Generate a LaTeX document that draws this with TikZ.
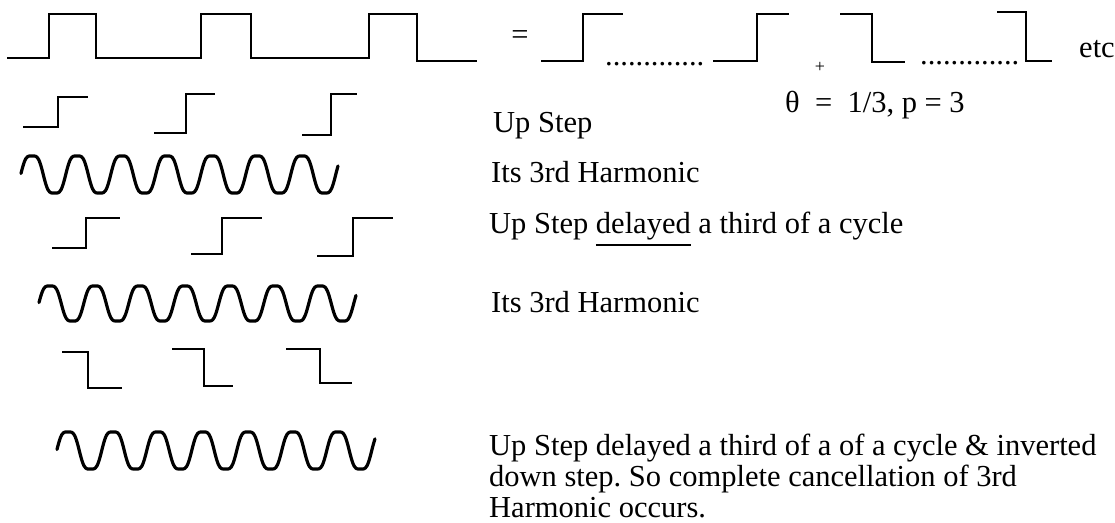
\documentclass[tikz,border=0pt]{standalone}
\usepackage{fontspec}
\setmainfont{Liberation Serif}
\frenchspacing
\newcommand{\subraya}[1]{\setbox0\hbox{#1}\rlap{\rule[-13pt]{\wd0}{2.2pt}}\box0\relax}
\begin{document}
\begin{tikzpicture}[x=1pt, y=-1pt,
    paso/.style={line width=2.8pt},
    onda/.style={line width=3.2pt, line join=round, line cap=round},
    rotulo/.style={inner sep=0pt, anchor=base west, font=\fontsize{30.5}{31}\selectfont}]
    \useasboundingbox (0,0) rectangle (1115,522);
    % Onda cuadrada
    \draw[paso] (7,58) -- (49,58) -- (49,14) -- (96,14) -- (96,58) -- (201,58) -- (201,14) --
        (251,14) -- (251,58) -- (369,58) -- (369,14) -- (417,14) -- (417,61) -- (477,61);
    \node[rotulo, anchor=center] (igual) at (520,38) {=};
    % Escalones de subida y bajada
    \draw[paso] (541,61) -- (583,61) -- (583,14) -- (623,14);
    \node[rotulo] (puntosA) at (605,65) {.............};
    \draw[paso] (713,61) -- (757,61) -- (757,14) -- (789,14);
    \node[rotulo, font=\fontsize{18}{18}\selectfont, anchor=center] (mas) at (820,67) {+};
    \draw[paso] (840,14) -- (872,14) -- (872,62) -- (905,62);
    \node[rotulo] (puntosB) at (920,64) {.............};
    \draw[paso] (997,12) -- (1026,12) -- (1026,61) -- (1052,61);
    \node[rotulo] (etc) at (1079,57) {etc};
    \node[rotulo] (theta) at (785,112) {θ\ \ =\ \ 1/3, p = 3};
    % Escalon de subida
    \draw[paso] (23,127) -- (58,127) -- (58,97) -- (88,97);
    \draw[paso] (154,133) -- (186,133) -- (186,94) -- (215,94);
    \draw[paso] (302,135) -- (331,135) -- (331,94) -- (357,94);
    \node[rotulo] (pasoA) at (493,132) {Up Step};
    % Tercer armonico
    \draw[onda] plot[domain=21:338, samples=200, smooth]
        (\x, {174.5-18.5/0.88*(cos(8*(\x-32))-0.12*cos(24*(\x-32)))});
    \node[rotulo] (armA) at (491,182) {Its 3rd Harmonic};
    % Escalon retrasado un tercio de ciclo
    \draw[paso] (52,248) -- (86,248) -- (86,218) -- (120,218);
    \draw[paso] (191,254) -- (222,254) -- (222,218) -- (262,218);
    \draw[paso] (317,256) -- (353,256) -- (353,218) -- (393,218);
    \node[rotulo] (pasoB) at (489,233) {Up Step \subraya{delayed} a third of a cycle};
    % Tercer armonico
    \draw[onda] plot[domain=39:356, samples=200, smooth]
        (\x, {303.5-17.5/0.88*(cos(8*(\x-50))-0.12*cos(24*(\x-50)))});
    \node[rotulo] (armB) at (491,312) {Its 3rd Harmonic};
    % Escalon de bajada
    \draw[paso] (62,352) -- (88,352) -- (88,388) -- (122,388);
    \draw[paso] (172,349) -- (204,349) -- (204,386) -- (233,386);
    \draw[paso] (286,349) -- (320,349) -- (320,383) -- (352,383);
    % Armonico del escalon invertido
    \draw[onda] plot[domain=57:375, samples=200, smooth]
        (\x, {450.5-18.5/0.88*(cos(8*(\x-68))-0.12*cos(24*(\x-68)))});
    \node[rotulo] (texto) at (489,455) {\parbox[t]{640pt}{Up Step delayed a third of a of a cycle \& inverted\\
        down step. So complete cancellation of 3rd\\ Harmonic occurs.}};
\end{tikzpicture}
\end{document}
